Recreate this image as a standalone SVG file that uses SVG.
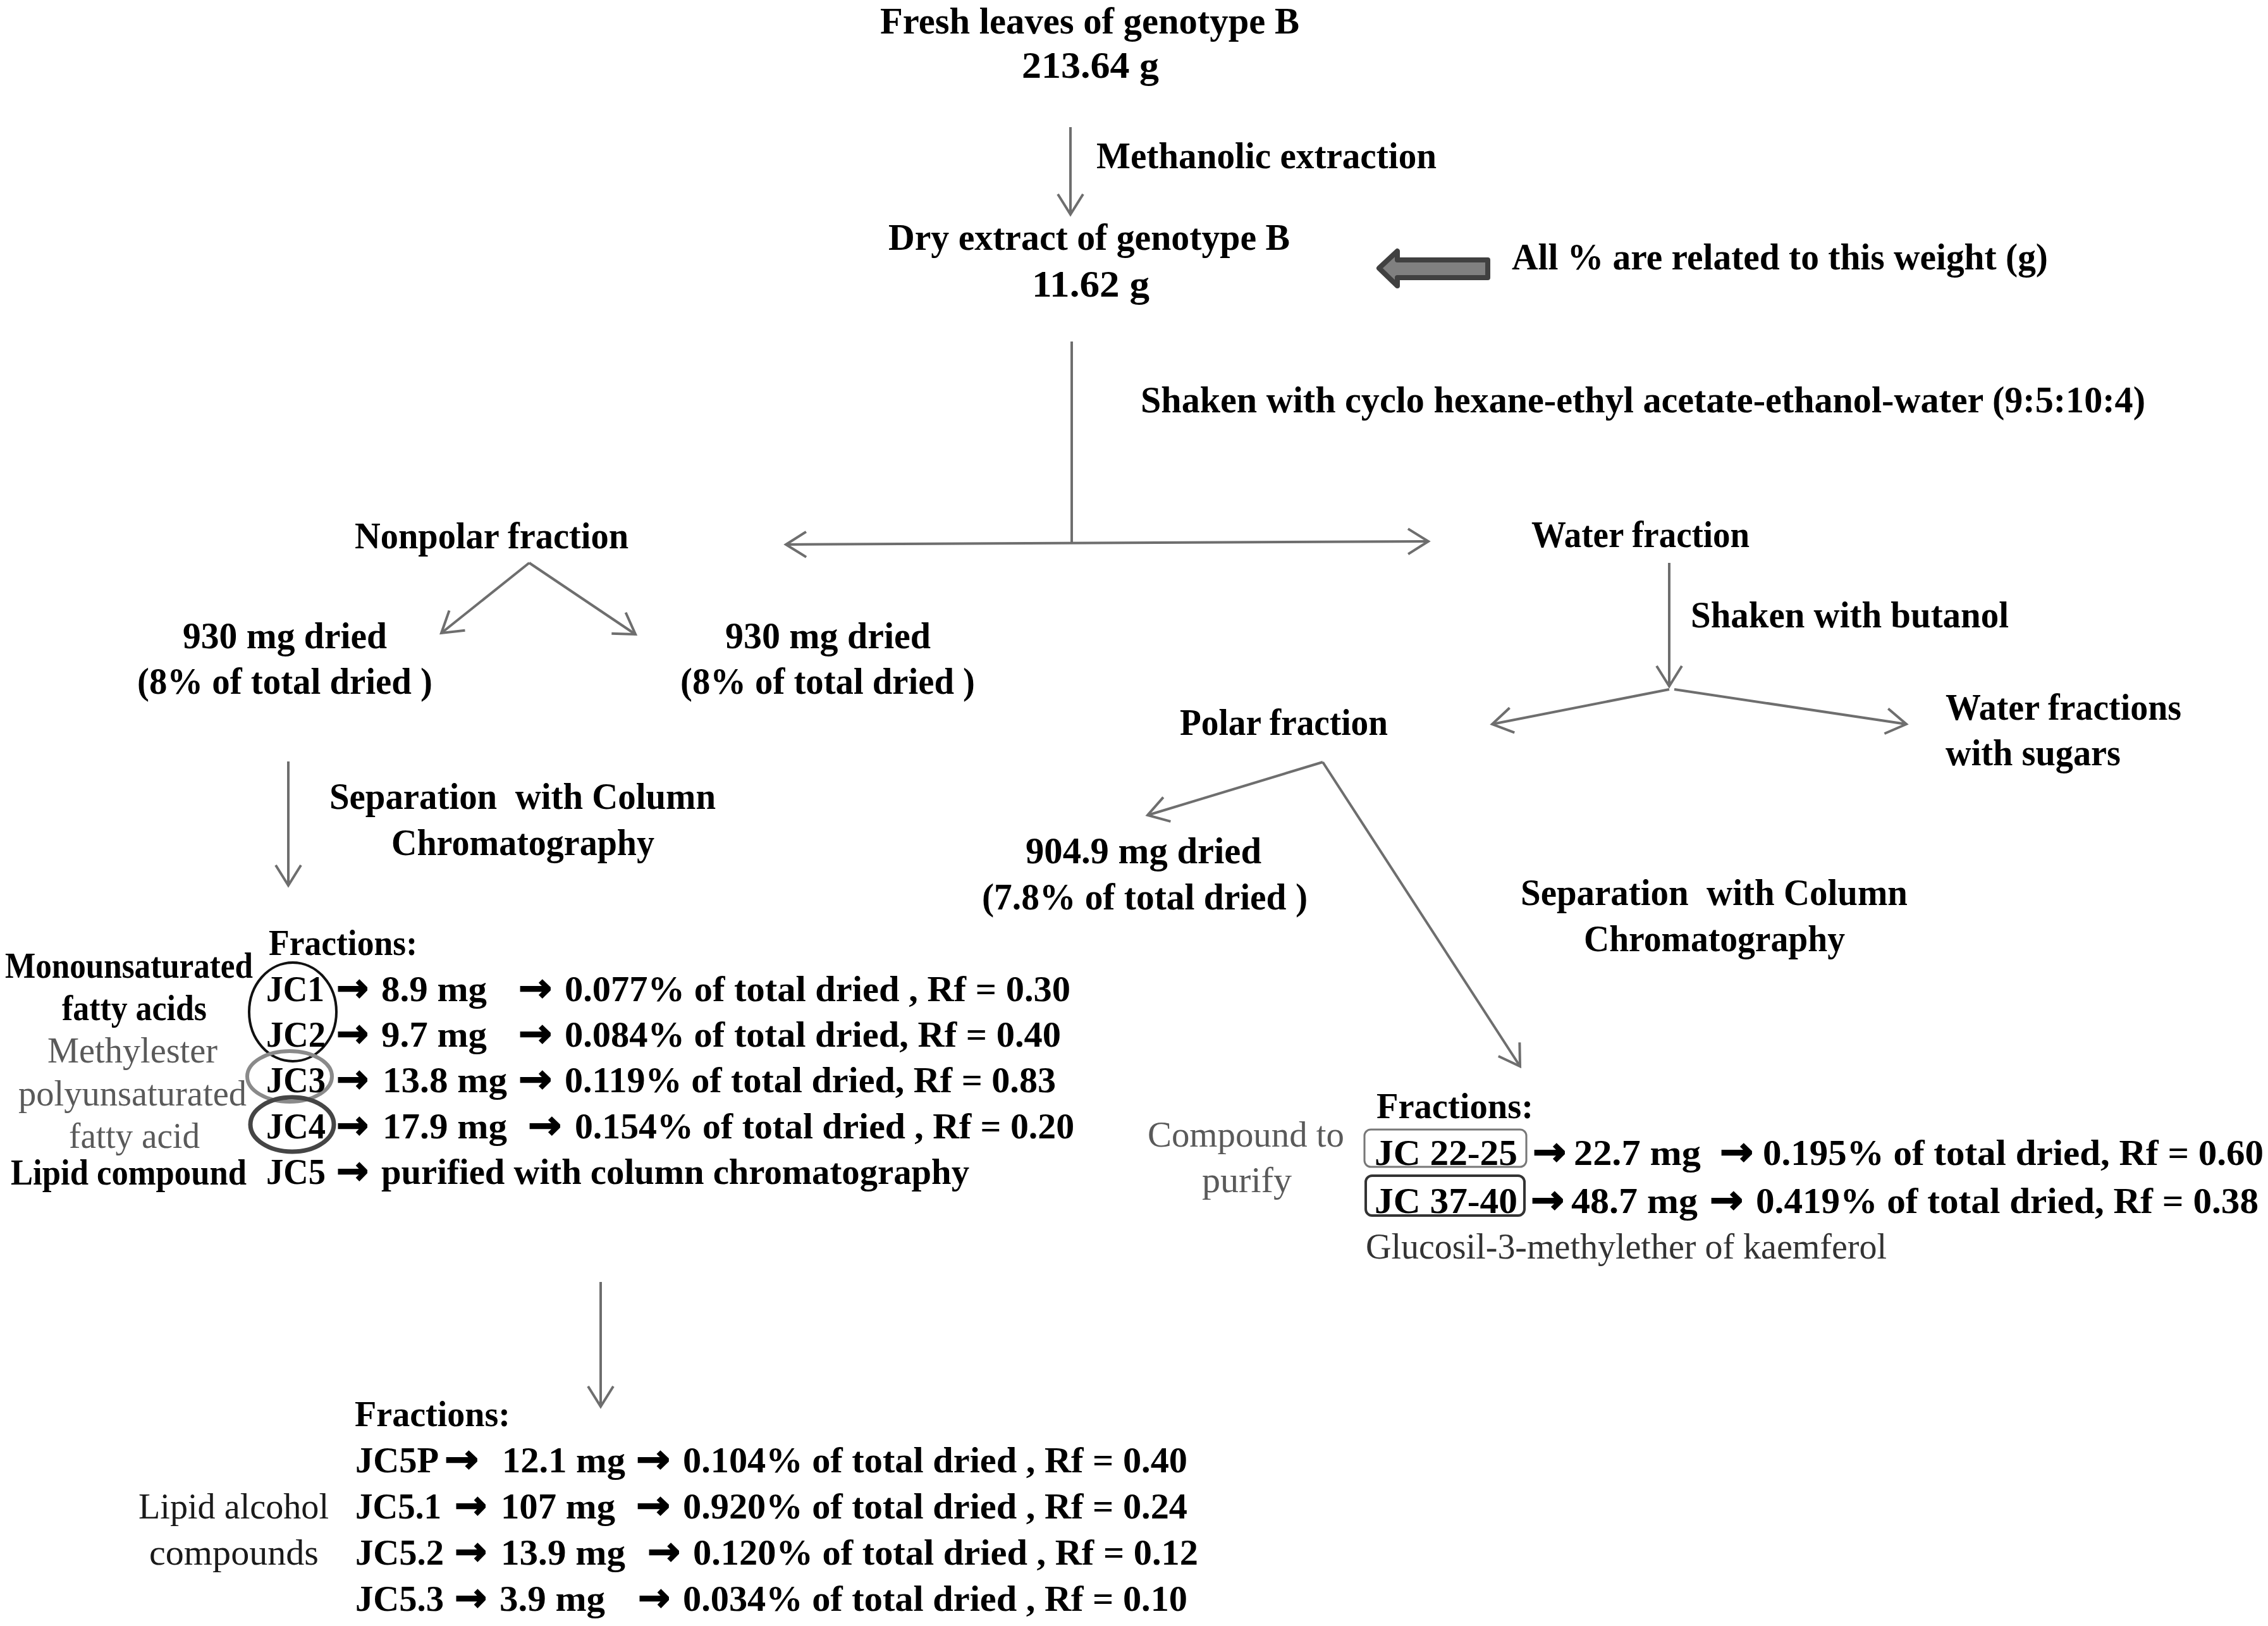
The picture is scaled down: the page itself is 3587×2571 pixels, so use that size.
<svg xmlns="http://www.w3.org/2000/svg" width="3587" height="2571" viewBox="0 0 3587 2571">
<style>
.t{font-family:"Liberation Serif","Times New Roman",serif;font-weight:bold;font-size:60px;fill:#000}
.r{font-family:"Liberation Serif","Times New Roman",serif;font-weight:bold;font-size:58px;fill:#000}
.n{font-family:"Liberation Serif","Times New Roman",serif;font-weight:normal;font-size:56px;fill:#5a5a5a}
.k{font-family:"Liberation Serif","Times New Roman",serif;font-weight:normal;font-size:57px;fill:#1a1a1a}
.a{font-family:"DejaVu Sans",sans-serif;font-weight:bold;font-size:62px;fill:#000;stroke:#000;stroke-width:2}
.c{fill:none;stroke:#6e6e6e;stroke-width:4}
.pre{white-space:pre}
</style>
<defs>
<marker id="ah" markerUnits="userSpaceOnUse" markerWidth="44" markerHeight="50" viewBox="-38 -25 44 50" refX="0" refY="0" orient="auto-start-reverse" overflow="visible">
<path d="M-32,-20 L0,0 L-32,20" fill="none" stroke="#6e6e6e" stroke-width="4"/>
</marker>
</defs>
<rect width="3587" height="2571" fill="#fff"/>

<g id="connectors">
<line class="c" x1="1693" y1="201" x2="1693" y2="339" marker-end="url(#ah)"/>
<line class="c" x1="1695" y1="540" x2="1695" y2="858"/>
<line class="c" x1="1243" y1="861" x2="2259" y2="856" stroke-width="5" marker-start="url(#ah)" marker-end="url(#ah)"/>
<line class="c" x1="837" y1="890" x2="698" y2="1001" marker-end="url(#ah)"/>
<line class="c" x1="837" y1="890" x2="1005" y2="1003" marker-end="url(#ah)"/>
<line class="c" x1="456" y1="1204" x2="456" y2="1400" marker-end="url(#ah)"/>
<line class="c" x1="2640" y1="890" x2="2640" y2="1085" marker-end="url(#ah)"/>
<line class="c" x1="2640" y1="1090" x2="2360" y2="1145" marker-end="url(#ah)"/>
<line class="c" x1="2648" y1="1090" x2="3015" y2="1145" marker-end="url(#ah)"/>
<line class="c" x1="2092" y1="1205" x2="1815" y2="1289" marker-end="url(#ah)"/>
<line class="c" x1="2092" y1="1205" x2="2404" y2="1686" marker-end="url(#ah)"/>
<line class="c" x1="950" y1="2027" x2="950" y2="2224" marker-end="url(#ah)"/>
</g>

<g id="note-arrow">
<path d="M2181,424 L2210,397 L2210,411 L2353,411 L2353,439 L2210,439 L2210,452 Z" fill="#808080" stroke="#404040" stroke-width="8" stroke-linejoin="round"/>
</g>

<g id="fresh">
<text class="t" x="1392" y="53" textLength="663" lengthAdjust="spacingAndGlyphs">Fresh leaves of genotype B</text>
<text class="t" x="1616" y="123" textLength="217" lengthAdjust="spacingAndGlyphs">213.64 g</text>
</g>
<g id="lbl-methanolic">
<text class="t" x="1734" y="266" textLength="538" lengthAdjust="spacingAndGlyphs">Methanolic extraction</text>
</g>
<g id="dry">
<text class="t" x="1405" y="395" textLength="635" lengthAdjust="spacingAndGlyphs">Dry extract of genotype B</text>
<text class="t" x="1632" y="469" textLength="186" lengthAdjust="spacingAndGlyphs">11.62 g</text>
</g>
<g id="note">
<text class="t" x="2391" y="426" textLength="848" lengthAdjust="spacingAndGlyphs">All % are related to this weight (g)</text>
</g>
<g id="lbl-shaken">
<text class="t" x="1804" y="652" textLength="1589" lengthAdjust="spacingAndGlyphs">Shaken with cyclo hexane-ethyl acetate-ethanol-water (9:5:10:4)</text>
</g>
<g id="nonpolar">
<text class="t" x="561" y="867" textLength="433" lengthAdjust="spacingAndGlyphs">Nonpolar fraction</text>
</g>
<g id="water">
<text class="t" x="2422" y="865" textLength="345" lengthAdjust="spacingAndGlyphs">Water fraction</text>
</g>
<g id="lbl-butanol">
<text class="t" x="2674" y="992" textLength="503" lengthAdjust="spacingAndGlyphs">Shaken with butanol</text>
</g>
<g id="dried-left">
<text class="t" x="289" y="1025" textLength="323" lengthAdjust="spacingAndGlyphs">930 mg dried</text>
<text class="t" x="217" y="1097" textLength="467" lengthAdjust="spacingAndGlyphs">(8% of total dried )</text>
</g>
<g id="dried-right">
<text class="t" x="1147" y="1025" textLength="325" lengthAdjust="spacingAndGlyphs">930 mg dried</text>
<text class="t" x="1076" y="1097" textLength="466" lengthAdjust="spacingAndGlyphs">(8% of total dried )</text>
</g>
<g id="polar">
<text class="t" x="1866" y="1162" textLength="329" lengthAdjust="spacingAndGlyphs">Polar fraction</text>
</g>
<g id="water-sugars">
<text class="t" x="3077" y="1138" textLength="373" lengthAdjust="spacingAndGlyphs">Water fractions</text>
<text class="t" x="3077" y="1210" textLength="277" lengthAdjust="spacingAndGlyphs">with sugars</text>
</g>
<g id="lbl-sep-left">
<text class="t pre" x="521" y="1279" textLength="611" lengthAdjust="spacingAndGlyphs">Separation  with Column</text>
<text class="t" x="619" y="1352" textLength="416" lengthAdjust="spacingAndGlyphs">Chromatography</text>
</g>
<g id="polar-dried">
<text class="t" x="1622" y="1365" textLength="373" lengthAdjust="spacingAndGlyphs">904.9 mg dried</text>
<text class="t" x="1553" y="1438" textLength="515" lengthAdjust="spacingAndGlyphs">(7.8% of total dried )</text>
</g>
<g id="lbl-sep-right">
<text class="t pre" x="2405" y="1431" textLength="612" lengthAdjust="spacingAndGlyphs">Separation  with Column</text>
<text class="t" x="2505" y="1504" textLength="413" lengthAdjust="spacingAndGlyphs">Chromatography</text>
</g>

<g id="fractions-left">
<ellipse cx="463" cy="1600" rx="69" ry="78" fill="none" stroke="#111" stroke-width="4"/>
<ellipse cx="458" cy="1702" rx="67" ry="40" fill="none" stroke="#8a8a8a" stroke-width="6"/>
<ellipse cx="462" cy="1778" rx="66" ry="43" fill="none" stroke="#454545" stroke-width="7"/>
<text class="r" x="425" y="1510" textLength="235" lengthAdjust="spacingAndGlyphs">Fractions:</text>
<text class="r" x="8" y="1546" textLength="392" lengthAdjust="spacingAndGlyphs">Monounsaturated</text>
<text class="r" x="98" y="1613" textLength="229" lengthAdjust="spacingAndGlyphs">fatty acids</text>
<text class="n" x="75" y="1680" textLength="269" lengthAdjust="spacingAndGlyphs">Methylester</text>
<text class="n" x="29" y="1748" textLength="361" lengthAdjust="spacingAndGlyphs">polyunsaturated</text>
<text class="n" x="109" y="1815" textLength="207" lengthAdjust="spacingAndGlyphs">fatty acid</text>
<text class="r" x="17" y="1873" textLength="373" lengthAdjust="spacingAndGlyphs">Lipid compound</text>

<text class="r" x="421" y="1583" textLength="92" lengthAdjust="spacingAndGlyphs">JC1</text>
<text class="a" x="532" y="1583" textLength="51" lengthAdjust="spacingAndGlyphs">→</text>
<text class="r" x="603" y="1583" textLength="167" lengthAdjust="spacingAndGlyphs">8.9 mg</text>
<text class="a" x="820" y="1583" textLength="53" lengthAdjust="spacingAndGlyphs">→</text>
<text class="r" x="893" y="1583" textLength="800" lengthAdjust="spacingAndGlyphs">0.077% of total dried , Rf = 0.30</text>

<text class="r" x="421" y="1655" textLength="94" lengthAdjust="spacingAndGlyphs">JC2</text>
<text class="a" x="532" y="1655" textLength="51" lengthAdjust="spacingAndGlyphs">→</text>
<text class="r" x="603" y="1655" textLength="167" lengthAdjust="spacingAndGlyphs">9.7 mg</text>
<text class="a" x="820" y="1655" textLength="53" lengthAdjust="spacingAndGlyphs">→</text>
<text class="r" x="893" y="1655" textLength="785" lengthAdjust="spacingAndGlyphs">0.084% of total dried, Rf = 0.40</text>

<text class="r" x="421" y="1727" textLength="94" lengthAdjust="spacingAndGlyphs">JC3</text>
<text class="a" x="532" y="1727" textLength="51" lengthAdjust="spacingAndGlyphs">→</text>
<text class="r" x="605" y="1727" textLength="197" lengthAdjust="spacingAndGlyphs">13.8 mg</text>
<text class="a" x="820" y="1727" textLength="53" lengthAdjust="spacingAndGlyphs">→</text>
<text class="r" x="893" y="1727" textLength="777" lengthAdjust="spacingAndGlyphs">0.119% of total dried, Rf = 0.83</text>

<text class="r" x="421" y="1800" textLength="94" lengthAdjust="spacingAndGlyphs">JC4</text>
<text class="a" x="532" y="1800" textLength="51" lengthAdjust="spacingAndGlyphs">→</text>
<text class="r" x="605" y="1800" textLength="197" lengthAdjust="spacingAndGlyphs">17.9 mg</text>
<text class="a" x="835" y="1800" textLength="53" lengthAdjust="spacingAndGlyphs">→</text>
<text class="r" x="909" y="1800" textLength="790" lengthAdjust="spacingAndGlyphs">0.154% of total dried , Rf = 0.20</text>

<text class="r" x="421" y="1872" textLength="94" lengthAdjust="spacingAndGlyphs">JC5</text>
<text class="a" x="532" y="1872" textLength="51" lengthAdjust="spacingAndGlyphs">→</text>
<text class="r" x="603" y="1872" textLength="930" lengthAdjust="spacingAndGlyphs">purified with column chromatography</text>
</g>

<g id="fractions-right">
<rect x="2158" y="1786" width="256" height="59" rx="10" fill="none" stroke="#777" stroke-width="3"/>
<rect x="2160" y="1859" width="251" height="63" rx="10" fill="none" stroke="#333" stroke-width="4"/>
<text class="r" x="2177" y="1768" textLength="248" lengthAdjust="spacingAndGlyphs">Fractions:</text>
<text class="n" x="1815" y="1813" textLength="311" lengthAdjust="spacingAndGlyphs">Compound to</text>
<text class="n" x="1901" y="1885" textLength="142" lengthAdjust="spacingAndGlyphs">purify</text>

<text class="r" x="2174" y="1842" textLength="226" lengthAdjust="spacingAndGlyphs">JC 22-25</text>
<text class="a" x="2424" y="1842" textLength="53" lengthAdjust="spacingAndGlyphs">→</text>
<text class="r" x="2489" y="1842" textLength="201" lengthAdjust="spacingAndGlyphs">22.7 mg</text>
<text class="a" x="2720" y="1842" textLength="53" lengthAdjust="spacingAndGlyphs">→</text>
<text class="r" x="2788" y="1842" textLength="792" lengthAdjust="spacingAndGlyphs">0.195% of total dried, Rf = 0.60</text>

<text class="r" x="2174" y="1918" textLength="226" lengthAdjust="spacingAndGlyphs">JC 37-40</text>
<text class="a" x="2421" y="1918" textLength="53" lengthAdjust="spacingAndGlyphs">→</text>
<text class="r" x="2485" y="1918" textLength="200" lengthAdjust="spacingAndGlyphs">48.7 mg</text>
<text class="a" x="2704" y="1918" textLength="53" lengthAdjust="spacingAndGlyphs">→</text>
<text class="r" x="2777" y="1918" textLength="795" lengthAdjust="spacingAndGlyphs">0.419% of total dried, Rf = 0.38</text>

<text class="k" x="2160" y="1990" textLength="824" lengthAdjust="spacingAndGlyphs" style="fill:#333">Glucosil-3-methylether of kaemferol</text>
</g>

<g id="fractions-bottom">
<text class="r" x="561" y="2255" textLength="246" lengthAdjust="spacingAndGlyphs">Fractions:</text>
<text class="k" x="219" y="2401" textLength="301" lengthAdjust="spacingAndGlyphs">Lipid alcohol</text>
<text class="k" x="236" y="2474" textLength="268" lengthAdjust="spacingAndGlyphs">compounds</text>

<text class="r" x="562" y="2328" textLength="132" lengthAdjust="spacingAndGlyphs">JC5P</text>
<text class="a" x="703" y="2328" textLength="54" lengthAdjust="spacingAndGlyphs">→</text>
<text class="r" x="794" y="2328" textLength="195" lengthAdjust="spacingAndGlyphs">12.1 mg</text>
<text class="a" x="1006" y="2328" textLength="54" lengthAdjust="spacingAndGlyphs">→</text>
<text class="r" x="1080" y="2328" textLength="798" lengthAdjust="spacingAndGlyphs">0.104% of total dried , Rf = 0.40</text>

<text class="r" x="562" y="2401" textLength="136" lengthAdjust="spacingAndGlyphs">JC5.1</text>
<text class="a" x="719" y="2401" textLength="51" lengthAdjust="spacingAndGlyphs">→</text>
<text class="r" x="792" y="2401" textLength="181" lengthAdjust="spacingAndGlyphs">107 mg</text>
<text class="a" x="1006" y="2401" textLength="54" lengthAdjust="spacingAndGlyphs">→</text>
<text class="r" x="1080" y="2401" textLength="798" lengthAdjust="spacingAndGlyphs">0.920% of total dried , Rf = 0.24</text>

<text class="r" x="562" y="2474" textLength="140" lengthAdjust="spacingAndGlyphs">JC5.2</text>
<text class="a" x="719" y="2474" textLength="51" lengthAdjust="spacingAndGlyphs">→</text>
<text class="r" x="792" y="2474" textLength="197" lengthAdjust="spacingAndGlyphs">13.9 mg</text>
<text class="a" x="1024" y="2474" textLength="52" lengthAdjust="spacingAndGlyphs">→</text>
<text class="r" x="1096" y="2474" textLength="799" lengthAdjust="spacingAndGlyphs">0.120% of total dried , Rf = 0.12</text>

<text class="r" x="562" y="2547" textLength="140" lengthAdjust="spacingAndGlyphs">JC5.3</text>
<text class="a" x="719" y="2547" textLength="51" lengthAdjust="spacingAndGlyphs">→</text>
<text class="r" x="790" y="2547" textLength="167" lengthAdjust="spacingAndGlyphs">3.9 mg</text>
<text class="a" x="1009" y="2547" textLength="51" lengthAdjust="spacingAndGlyphs">→</text>
<text class="r" x="1080" y="2547" textLength="798" lengthAdjust="spacingAndGlyphs">0.034% of total dried , Rf = 0.10</text>
</g>
</svg>
